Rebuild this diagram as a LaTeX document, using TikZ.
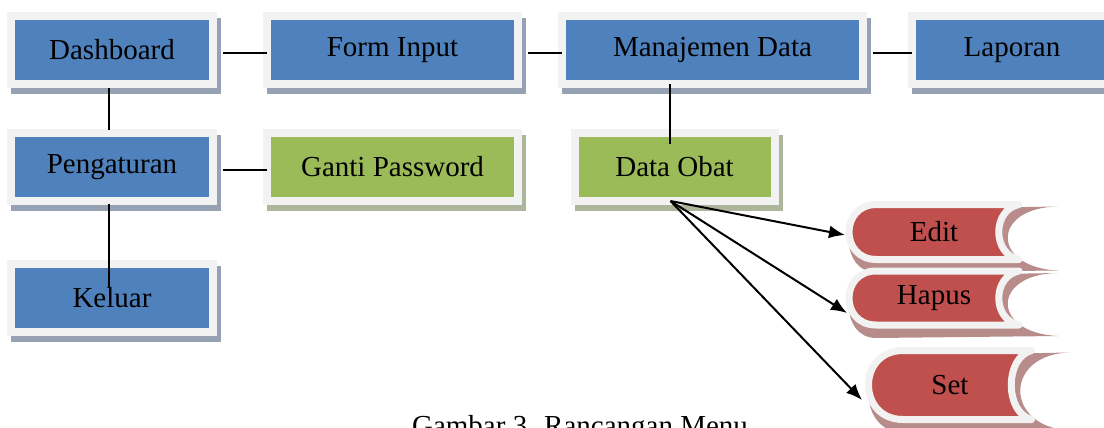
\documentclass[tikz,border=0pt]{standalone}
\usepackage{fontspec}
\setmainfont{Liberation Serif}
\usetikzlibrary{shapes,arrows.meta,positioning,shadows,backgrounds}
\definecolor{menublue}{HTML}{4F81BD}
\definecolor{subgreen}{HTML}{9BBB59}
\definecolor{actred}{HTML}{C0504D}
\definecolor{framegray}{HTML}{F2F2F2}
\definecolor{shadowblue}{HTML}{96A2B4}
\definecolor{shadowgreen}{HTML}{ADB59C}
\definecolor{shadowred}{HTML}{B98C8C}
\tikzstyle{box} = [rectangle, draw=framegray, line width=4pt, outer sep=0pt, inner sep=0pt, minimum height=34pt, text=black, font=\fontsize{14.5}{17}\selectfont]
\tikzstyle{menu} = [box, fill=menublue, general shadow={shadow xshift=2pt, shadow yshift=-3pt, fill=shadowblue, draw=shadowblue}]
\tikzstyle{sub} = [box, fill=subgreen, general shadow={shadow xshift=2pt, shadow yshift=-3pt, fill=shadowgreen, draw=shadowgreen}]
\tikzstyle{action} = [inner sep=0pt, text=black, font=\fontsize{14.5}{17}\selectfont]
\tikzstyle{tabframe} = [fill=actred, draw=framegray, line width=3.5pt, line join=round]
\tikzstyle{link} = [line width=1pt]
\tikzstyle{arrow} = [-{Latex[length=8pt,width=6.5pt]}, line width=1pt]
% tab shape behind a text node: #1 node, #2 half width, #3 half height
\newcommand{\tabitem}[3]{%
  \begin{scope}[on background layer, shift={(#1.center)}]
    \fill[shadowred] (-#2+#3,#3-5) -- (#2+39,#3-2) .. controls (#2-28,#3-3) and (#2-28,-#3-8) .. (#2+39,-#3-11)
      -- (-#2+#3,-#3-13) .. controls (-#2-#3/3,-#3-13) and (-#2-#3/3,#3-5) .. cycle;
    \filldraw[tabframe] (-#2+#3,#3) -- (#2,#3) .. controls (#2-27,0.8*#3) and (#2-27,-0.8*#3) .. (#2,-#3)
      -- (-#2+#3,-#3) .. controls (-#2-#3/3,-#3) and (-#2-#3/3,#3) .. cycle;
  \end{scope}}

\begin{document}
\begin{tikzpicture}[x=0.5pt, y=0.5pt]
  \useasboundingbox (0,0) rectangle (1104,-428);
  \node[menu, minimum width=101pt] (dash) at (112,-50) {Dashboard};
  \node[menu, minimum width=125.5pt, right=27pt of dash] (form) {Form Input};
  \node[menu, minimum width=150.5pt, right=22pt of form] (man) {Manajemen Data};
  \node[menu, minimum width=100pt, right=24.5pt of man] (lap) {Laporan};
  \node[menu, minimum width=101pt, below=24.5pt of dash] (peng) {Pengaturan};
  \node[sub, minimum width=125.5pt, right=27pt of peng] (ganti) {Ganti Password};
  \node[sub, minimum width=100pt, below=24.5pt of man, xshift=-19pt] (dobat) {Data Obat};
  \node[menu, minimum width=101pt, below=31.5pt of peng] (kel) {Keluar};
  \node[action] (edit) at (934,-232) {Edit};
  \node[action] (hapus) at (934,-298) {Hapus};
  \node[action] (set) at (950,-385) {Set};
  \tabitem{edit}{85}{27.5}
  \tabitem{hapus}{85}{27}
  \tabitem{set}{81.5}{34.5}
  \draw[link, shorten <=5pt] ([yshift=-1.5pt]dash.east) -- ([yshift=-1.5pt]form.west);
  \draw[link, shorten <=5pt] ([yshift=-1.5pt]form.east) -- ([yshift=-1.5pt]man.west);
  \draw[link, shorten <=5pt] ([yshift=-1.5pt]man.east) -- ([yshift=-1.5pt]lap.west);
  \draw[link, shorten <=5pt] ([yshift=-1.5pt]peng.east) -- ([yshift=-1.5pt]ganti.west);
  \draw[link, shorten <=2pt, shorten >=1.5pt] ([xshift=-1.5pt]dash.south) -- ([xshift=-1.5pt]peng.north);
  \draw[link, shorten <=1.5pt] ([xshift=-1.5pt]peng.south) -- ([xshift=-1.5pt, yshift=-11.5pt]kel.north);
  \draw[link] ([xshift=-2.5pt]dobat.north |- man.south) -- ([xshift=-2.5pt, yshift=-5.5pt]dobat.north);
  \draw[arrow] ([xshift=-2pt]dobat.south) -- ([xshift=-44.5pt, yshift=-1.5pt]edit.center);
  \draw[arrow] ([xshift=-2pt]dobat.south) -- ([xshift=-43.5pt, yshift=-7.5pt]hapus.center);
  \draw[arrow] ([xshift=-2pt]dobat.south) -- ([xshift=-44pt, yshift=-7.5pt]set.center);
  \node[action, anchor=base] (cap) at (580,-435) {Gambar 3. Rancangan Menu};
\end{tikzpicture}
\end{document}
